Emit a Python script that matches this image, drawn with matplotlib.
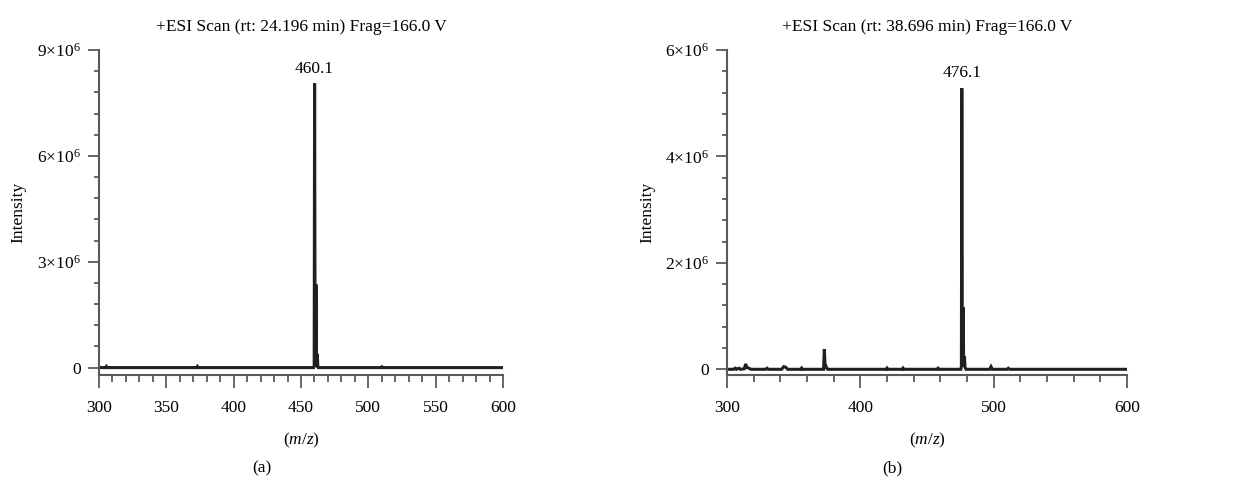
import numpy as np
import matplotlib
matplotlib.use("Agg")
import matplotlib.pyplot as plt
from matplotlib.ticker import MultipleLocator

plt.rcParams['font.family'] = ['Liberation Serif', 'DejaVu Serif']
plt.rcParams['mathtext.fontset'] = 'custom'
plt.rcParams['mathtext.rm'] = 'Liberation Serif'
plt.rcParams['mathtext.it'] = 'Liberation Serif:italic'

# spectrum (a): profile points, m/z and intensity
mz_a = [300, 305, 305.5, 306, 372.5, 373, 373.5, 459.4, 459.8, 460.1, 460.5, 460.8,
        461.1, 461.5, 461.8, 462.1, 462.5, 463.0, 509.5, 510, 510.5, 600]
int_a = [0, 0, 0.03e6, 0, 0, 0.03e6, 0, 0, 0.05e6, 8.05e6, 0.08e6, 0.06e6,
         2.36e6, 0.06e6, 0.05e6, 0.39e6, 0.03e6, 0, 0, 0.02e6, 0, 0]

# spectrum (b)
mz_b = [300, 305, 306, 307, 309, 310, 313, 314, 315, 316.5, 318, 329, 330, 331,
        341, 342.5, 344, 345.5, 355.5, 356, 356.5, 372.4, 373, 373.6, 374.2, 374.8, 375.5,
        419.5, 420, 420.5, 431.5, 432, 432.5, 457.5, 458.3, 459, 475.4, 475.8, 476.1, 476.5,
        476.8, 477.1, 477.5, 477.8, 478.1, 478.5, 479.2, 497, 498, 499, 510, 511, 512, 600]
int_b = [0, 0, 0.02e6, 0, 0.02e6, 0, 0.01e6, 0.1e6, 0.03e6, 0.02e6, 0, 0, 0.02e6, 0,
         0, 0.05e6, 0.04e6, 0, 0, 0.02e6, 0, 0, 0.38e6, 0.05e6, 0.06e6, 0.02e6, 0,
         0, 0.02e6, 0, 0, 0.02e6, 0, 0, 0.02e6, 0, 0, 0.06e6, 5.28e6, 0.1e6,
         0.08e6, 1.165e6, 0.08e6, 0.06e6, 0.25e6, 0.04e6, 0, 0, 0.05e6, 0, 0, 0.02e6, 0, 0]

titles = ["+ESI Scan (rt: 24.196 min) Frag=166.0 V",
          "+ESI Scan (rt: 38.696 min) Frag=166.0 V"]
peak_labels = ["460.1", "476.1"]
peak_mz = [460.1, 476.1]
peak_int = [8.05e6, 5.28e6]
yticks_a = [0, 3e6, 6e6, 9e6]
yticks_b = [0, 2e6, 4e6, 6e6]
ylabels_a = ["0", r"$3{\times}10^{6}$", r"$6{\times}10^{6}$", r"$9{\times}10^{6}$"]
ylabels_b = ["0", r"$2{\times}10^{6}$", r"$4{\times}10^{6}$", r"$6{\times}10^{6}$"]
panel_tags = ["(a)", "(b)"]

fig = plt.figure(figsize=(12.45, 4.87), dpi=100)
W, H = 1245, 487
spine_col = "#5a5a5a"
line_col = "#231f20"
px = 72 / 100  # pixels -> points


def setup(ax, mz, inten, yticks, ylabels, ymin, yminor, xmaj, xmin, title, lbl, pmz, pint):
    ax.plot(mz, inten, color=line_col, lw=2.2, solid_joinstyle='miter')
    ax.set_xlim(300, 600)
    ax.set_ylim(ymin, yticks[-1])
    ax.spines['top'].set_visible(False)
    ax.spines['right'].set_visible(False)
    for s in ['left', 'bottom']:
        ax.spines[s].set_color(spine_col)
        ax.spines[s].set_linewidth(1.5)
    ax.set_yticks(yticks)
    ax.set_yticklabels(ylabels)
    ax.set_yticks(np.arange(yminor, yticks[-1], yminor), minor=True)
    ax.xaxis.set_major_locator(MultipleLocator(xmaj))
    ax.xaxis.set_minor_locator(MultipleLocator(xmin))
    ax.tick_params(axis='y', which='major', length=11 * px, width=1.3, color=spine_col,
                   labelsize=12.5, pad=7 * px)
    ax.tick_params(axis='y', which='minor', length=5 * px, width=1.3, color=spine_col)
    ax.tick_params(axis='x', which='major', length=13 * px, width=1.3, color=spine_col,
                   labelsize=12.5, pad=12 * px)
    ax.tick_params(axis='x', which='minor', length=6.5 * px, width=1.3, color=spine_col)
    ax.set_title(title, fontsize=12.5, pad=14)
    ax.set_xlabel(r"($\mathit{m/z}$)", fontsize=12.5, labelpad=11)
    ax.set_ylabel("Intensity", fontsize=12.5, va='center')
    ax.yaxis.set_label_coords(-0.2, 0.5)
    ax.annotate(lbl, (pmz, pint), xytext=(0, 5), textcoords='offset points',
                ha='center', va='bottom', fontsize=12.5)


ax1 = fig.add_axes([99 / W, 1 - 375 / H, (503 - 99) / W, (375 - 50) / H])
setup(ax1, mz_a, int_a, yticks_a, ylabels_a, -0.21e6, 0.6e6, 50, 10,
      titles[0], peak_labels[0], peak_mz[0], peak_int[0])

ax2 = fig.add_axes([727 / W, 1 - 375 / H, (1127 - 727) / W, (375 - 50) / H])
setup(ax2, mz_b, int_b, yticks_b, ylabels_b, -0.107e6, 0.4e6, 100, 20,
      titles[1], peak_labels[1], peak_mz[1], peak_int[1])

fig.text(262 / W, 1 - 468 / H, panel_tags[0], ha='center', va='center', fontsize=12.5)
fig.text(892 / W, 1 - 468 / H, panel_tags[1], ha='center', va='center', fontsize=12.5)

fig.savefig("out.png", dpi=100)
